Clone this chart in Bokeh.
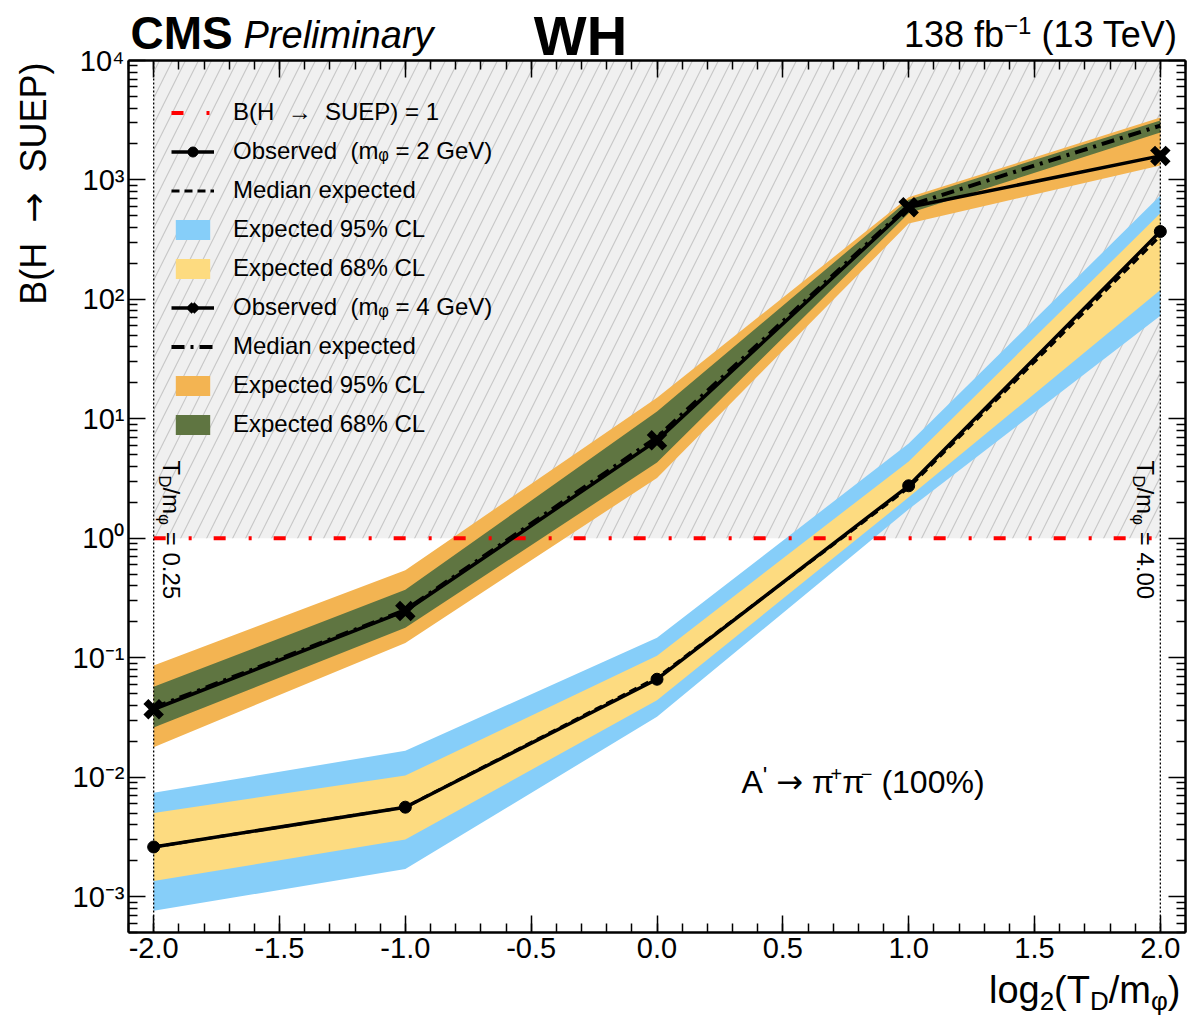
import numpy as np
from math import pi, log10
from bokeh.plotting import figure
from bokeh.models import (Range1d, FixedTicker, CustomJSTickFormatter, PrintfTickFormatter,
                          LinearAxis, LogAxis, Label, Legend, LegendItem)
from bokeh.embed import file_html
from bokeh.resources import INLINE

# ---------------- data ----------------
x_vals = [-2.0, -1.0, 0.0, 1.0, 2.0]          # log2(T_D / m_phi)

# m_phi = 2 GeV
obs_m2 = [0.0026, 0.0056, 0.066, 2.75, 370.0]
exp_m2 = [0.0026, 0.0056, 0.068, 2.65, 340.0]
m2_lo95 = [0.00076, 0.0017, 0.032, 1.75, 73.0]
m2_hi95 = [0.0074, 0.0166, 0.147, 6.2, 740.0]
m2_lo68 = [0.00135, 0.0030, 0.044, 2.2, 120.0]
m2_hi68 = [0.0050, 0.0103, 0.104, 4.4, 525.0]

# m_phi = 4 GeV
obs_m4 = [0.037, 0.246, 6.6, 590.0, 1590.0]
exp_m4 = [0.038, 0.25, 7.0, 610.0, 2850.0]
m4_lo95 = [0.0178, 0.133, 3.2, 431.0, 1320.0]
m4_hi95 = [0.086, 0.54, 15.0, 715.0, 3330.0]
m4_lo68 = [0.026, 0.178, 4.3, 525.0, 2500.0]
m4_hi68 = [0.057, 0.37, 11.5, 684.0, 3150.0]

BR_ONE = 1.0
X_LO, X_HI = -2.1, 2.1          # axis box
Y_LO, Y_HI = 5e-4, 1e4

x_major = [-2.0, -1.5, -1.0, -0.5, 0.0, 0.5, 1.0, 1.5, 2.0]
x_minor = [round(-2.1 + 0.1 * i, 2) for i in range(43)]
y_major = [1e-3, 1e-2, 1e-1, 1e0, 1e1, 1e2, 1e3, 1e4]
y_minor = [k * 10.0 ** e for e in range(-4, 4) for k in range(2, 10) if k * 10.0 ** e >= 5e-4]

FONT = "Liberation Sans"
ARROW_FONT = "DejaVu Sans"
C_BLUE = "#86cef9"
C_YELLOW = "#fddb80"
C_ORANGE = "#f3b452"
C_GREEN = "#5f7541"

# ---------------- page geometry (pixels) ----------------
W_PX, H_PX = 1187, 1015
BOX_L, BOX_R, BOX_T, BOX_B = 128, 1185, 60, 932
px_per_x = (BOX_R - BOX_L) / (X_HI - X_LO)
px_per_dec = (BOX_B - BOX_T) / (log10(Y_HI) - log10(Y_LO))
XS0 = X_LO - BOX_L / px_per_x
XS1 = X_HI + (W_PX - BOX_R) / px_per_x
YS1 = 10 ** (log10(Y_HI) + BOX_T / px_per_dec)
YS0 = 10 ** (log10(Y_LO) - (H_PX - BOX_B) / px_per_dec)

# ---------------- figure ----------------
p = figure(width=W_PX, height=H_PX, x_range=Range1d(XS0, XS1), y_range=Range1d(YS0, YS1),
           y_axis_type="log", output_backend="svg", toolbar_location=None, min_border=0)
p.title.visible = False
p.xgrid.visible = False
p.ygrid.visible = False
p.outline_line_color = None
p.background_fill_color = "white"
p.border_fill_color = "white"

xt = FixedTicker(ticks=x_major, minor_ticks=x_minor)
yt = FixedTicker(ticks=y_major, minor_ticks=y_minor)


def style_axis(ax):
    ax.axis_line_width = 2.5
    ax.axis_line_color = "black"
    ax.major_tick_in = 17
    ax.major_tick_out = 0
    ax.minor_tick_in = 9
    ax.minor_tick_out = 0
    ax.major_tick_line_width = 1.5
    ax.minor_tick_line_width = 1.5
    ax.major_tick_line_color = "black"
    ax.minor_tick_line_color = "black"
    ax.major_label_text_font = FONT
    ax.major_label_text_color = "black"
    ax.major_label_text_font_size = "29px"


p.xaxis.ticker = xt
p.xaxis.formatter = PrintfTickFormatter(format="%.1f")
p.xaxis.fixed_location = Y_LO
p.xaxis.bounds = (X_LO, X_HI)
style_axis(p.xaxis[0])
p.xaxis.major_label_standoff = 5

p.yaxis.ticker = yt
p.yaxis.formatter = CustomJSTickFormatter(code="""
const sup = {'-':'⁻','0':'⁰','1':'¹','2':'²','3':'³','4':'⁴','5':'⁵','6':'⁶','7':'⁷','8':'⁸','9':'⁹'};
const e = Math.round(Math.log10(tick));
return '10' + String(e).split('').map(c => sup[c]).join('');
""")
p.yaxis.fixed_location = X_LO
p.yaxis.bounds = (Y_LO, Y_HI)
style_axis(p.yaxis[0])
p.yaxis.major_label_standoff = 4

blank = CustomJSTickFormatter(code="return '';")
top_ax = LinearAxis(ticker=xt, formatter=blank, fixed_location=Y_HI, bounds=(X_LO, X_HI))
style_axis(top_ax)
top_ax.major_label_standoff = 0
p.add_layout(top_ax, "above")
right_ax = LogAxis(ticker=yt, formatter=blank, fixed_location=X_HI, bounds=(Y_LO, Y_HI))
style_axis(right_ax)
right_ax.major_label_standoff = 0
p.add_layout(right_ax, "right")

# ---------------- excluded (hatched) region ----------------
p.quad(left=x_vals[0], right=x_vals[-1], bottom=BR_ONE, top=Y_HI,
       fill_color="#f0f0f0", line_color=None,
       hatch_pattern="/", hatch_color="#c8c8c8", hatch_scale=26, hatch_weight=1.2)

# ---------------- bands ----------------
r_or = p.varea(x=x_vals, y1=m4_lo95, y2=m4_hi95, fill_color=C_ORANGE)
r_gr = p.varea(x=x_vals, y1=m4_lo68, y2=m4_hi68, fill_color=C_GREEN)
r_bl = p.varea(x=x_vals, y1=m2_lo95, y2=m2_hi95, fill_color=C_BLUE)
r_ye = p.varea(x=x_vals, y1=m2_lo68, y2=m2_hi68, fill_color=C_YELLOW)

# ---------------- B = 1 line ----------------
r_one = p.line(x=[x_vals[0], x_vals[-1]], y=[BR_ONE, BR_ONE], line_color="#ff0000",
               line_width=4, line_dash="12 23 3 22")

# ---------------- medians ----------------
r_e2 = p.line(x=x_vals, y=exp_m2, line_color="black", line_width=3, line_dash="8 5")
r_e4 = p.line(x=x_vals, y=exp_m4, line_color="black", line_width=4, line_dash="13 6 3 6")

# ---------------- observed ----------------
r_o2 = p.line(x=x_vals, y=obs_m2, line_color="black", line_width=3.5)
r_o2s = p.scatter(x=x_vals, y=obs_m2, marker="circle", size=12, fill_color="black", line_color="black")
r_o4 = p.line(x=x_vals, y=obs_m4, line_color="black", line_width=3.5)
# slimmer copy used for the legend key (fully hidden under the bold markers drawn next)
r_o4_key = p.scatter(x=x_vals, y=obs_m4, marker="x", size=10, line_color="black", line_width=6)
r_o4s = p.scatter(x=x_vals, y=obs_m4, marker="x", size=22, line_color="black", line_width=7)

# ---------------- dotted verticals at the scan edges ----------------
for xv in (x_vals[0], x_vals[-1]):
    p.line(x=[xv, xv], y=[Y_LO, Y_HI], line_color="black", line_width=1.3, line_dash="2 2")

# ---------------- texts ----------------
ADV = {' ': .278, '(': .333, ')': .333, '/': .278, '=': .584, '.': .278, "'": .191, '%': .889,
       '+': .584, '−': .584, '-': .333, 'π': .58, 'φ': .65,
       'A': .667, 'B': .667, 'C': .722, 'D': .722, 'E': .667, 'G': .778, 'H': .722, 'L': .556,
       'M': .833, 'O': .778, 'P': .667, 'S': .667, 'T': .611, 'U': .722, 'V': .667, 'W': .944,
       'a': .556, 'b': .556, 'e': .556, 'f': .278, 'g': .556, 'i': .222, 'l': .222, 'm': .833,
       'n': .556, 'o': .556, 'r': .333, 'y': .5}
for d in "0123456789":
    ADV[d] = .556
ARROW_ADV = .838
MID = 0.35   # baseline -> vertical centre of the text box, in em


def tw(s, size, font=FONT):
    if font == ARROW_FONT:
        return ARROW_ADV * size * len(s)
    return sum(ADV.get(c, .556) for c in s) * size


def lab(px, py, text, size, angle=0.0, align="left", style="normal", font=FONT):
    """px, py: canvas pixels from the top-left; py is the text-box centre line."""
    p.add_layout(Label(x=px, y=H_PX - py, x_units="screen", y_units="screen", text=text,
                       text_font=font, text_font_size=f"{size}px", text_color="black",
                       text_align=align, text_baseline="middle", angle=angle,
                       text_font_style=style))


def compose(px, py, pieces, align="left", direction="h"):
    """pieces: (text, size, baseline shift in px toward letter tops, font)."""
    total = sum(tw(t, s, f) for t, s, _, f in pieces)
    adv = 0.0 if align == "left" else -total
    for t, s, shift, f in pieces:
        core = t.strip(" ")
        a = adv + (len(t) - len(t.lstrip(" "))) * ADV[" "] * s
        if core:
            if direction == "h":            # px, py = start point on the baseline
                lab(px + a, py - shift - MID * s, core, s, font=f)
            elif direction == "down":       # reading downward, tops to the right; px = baseline x
                lab(px + shift + MID * s, py + a, core, s, angle=-pi / 2, font=f)
            else:                           # "up": reading upward, tops to the left; px = baseline x
                lab(px - shift - MID * s, py - a, core, s, angle=pi / 2, font=f)
        adv += tw(t, s, f)


L = FONT
A = ARROW_FONT
lab(130, 49 - MID * 46, "CMS", 46, style="bold")
lab(243, 48 - MID * 38, "Preliminary", 38, style="italic")
lab(580, 55 - MID * 56, "WH", 56, align="center", style="bold")
compose(1181, 47, [("138 fb", 36, 0, L), ("−1", 24, 14, L), (" (13 TeV)", 36, 0, L)], align="right")

# y-axis title (rotated, aligned to the top end of the axis)
compose(46, 62, [("B(H  ", 36, 0, L), ("→", 36, 0, A), ("  SUEP)", 36, 0, L)],
        align="right", direction="up")

# x-axis title (aligned to the right end of the axis)
compose(1180, 1003, [("log", 38, 0, L), ("2", 26, -7, L), ("(T", 38, 0, L), ("D", 26, -7, L),
                     ("/m", 38, 0, L), ("φ", 26, -7, L), (")", 38, 0, L)], align="right")

# vertical annotations at the scan edges
compose(163, 460, [("T", 24, 0, L), ("D", 17, -5, L), ("/m", 24, 0, L), ("φ", 17, -5, L),
                   (" = 0.25", 24, 0, L)], direction="down")
compose(1137, 460, [("T", 24, 0, L), ("D", 17, -5, L), ("/m", 24, 0, L), ("φ", 17, -5, L),
                    (" = 4.00", 24, 0, L)], direction="down")

# decay-mode annotation
compose(741, 793, [("A", 32, 0, L), ("'", 24, 10, L), (" ", 32, 0, L), ("→", 32, 0, A),
                   (" π", 32, 0, L), ("+", 20, 13, L), ("π", 32, 0, L), ("−", 20, 13, L),
                   (" (100%)", 32, 0, L)])

# ---------------- legend ----------------
legend = Legend(items=[
    LegendItem(label="B(H  →  SUEP) = 1", renderers=[r_one]),
    LegendItem(label="Observed  (mᵩ = 2 GeV)", renderers=[r_o2, r_o2s]),
    LegendItem(label="Median expected", renderers=[r_e2]),
    LegendItem(label="Expected 95% CL", renderers=[r_bl]),
    LegendItem(label="Expected 68% CL", renderers=[r_ye]),
    LegendItem(label="Observed  (mᵩ = 4 GeV)", renderers=[r_o4, r_o4_key]),
    LegendItem(label="Median expected", renderers=[r_e4]),
    LegendItem(label="Expected 95% CL", renderers=[r_or]),
    LegendItem(label="Expected 68% CL", renderers=[r_gr]),
], location=(171, H_PX - 438))
legend.label_text_font = FONT
legend.label_text_font_size = "24px"
legend.label_text_color = "black"
legend.glyph_width = 43
legend.glyph_height = 25
legend.label_standoff = 19
legend.spacing = 11
legend.padding = 0
legend.margin = 0
legend.background_fill_alpha = 0
legend.border_line_alpha = 0
p.add_layout(legend, "center")

open("out.html", "w").write(file_html(p, INLINE))
